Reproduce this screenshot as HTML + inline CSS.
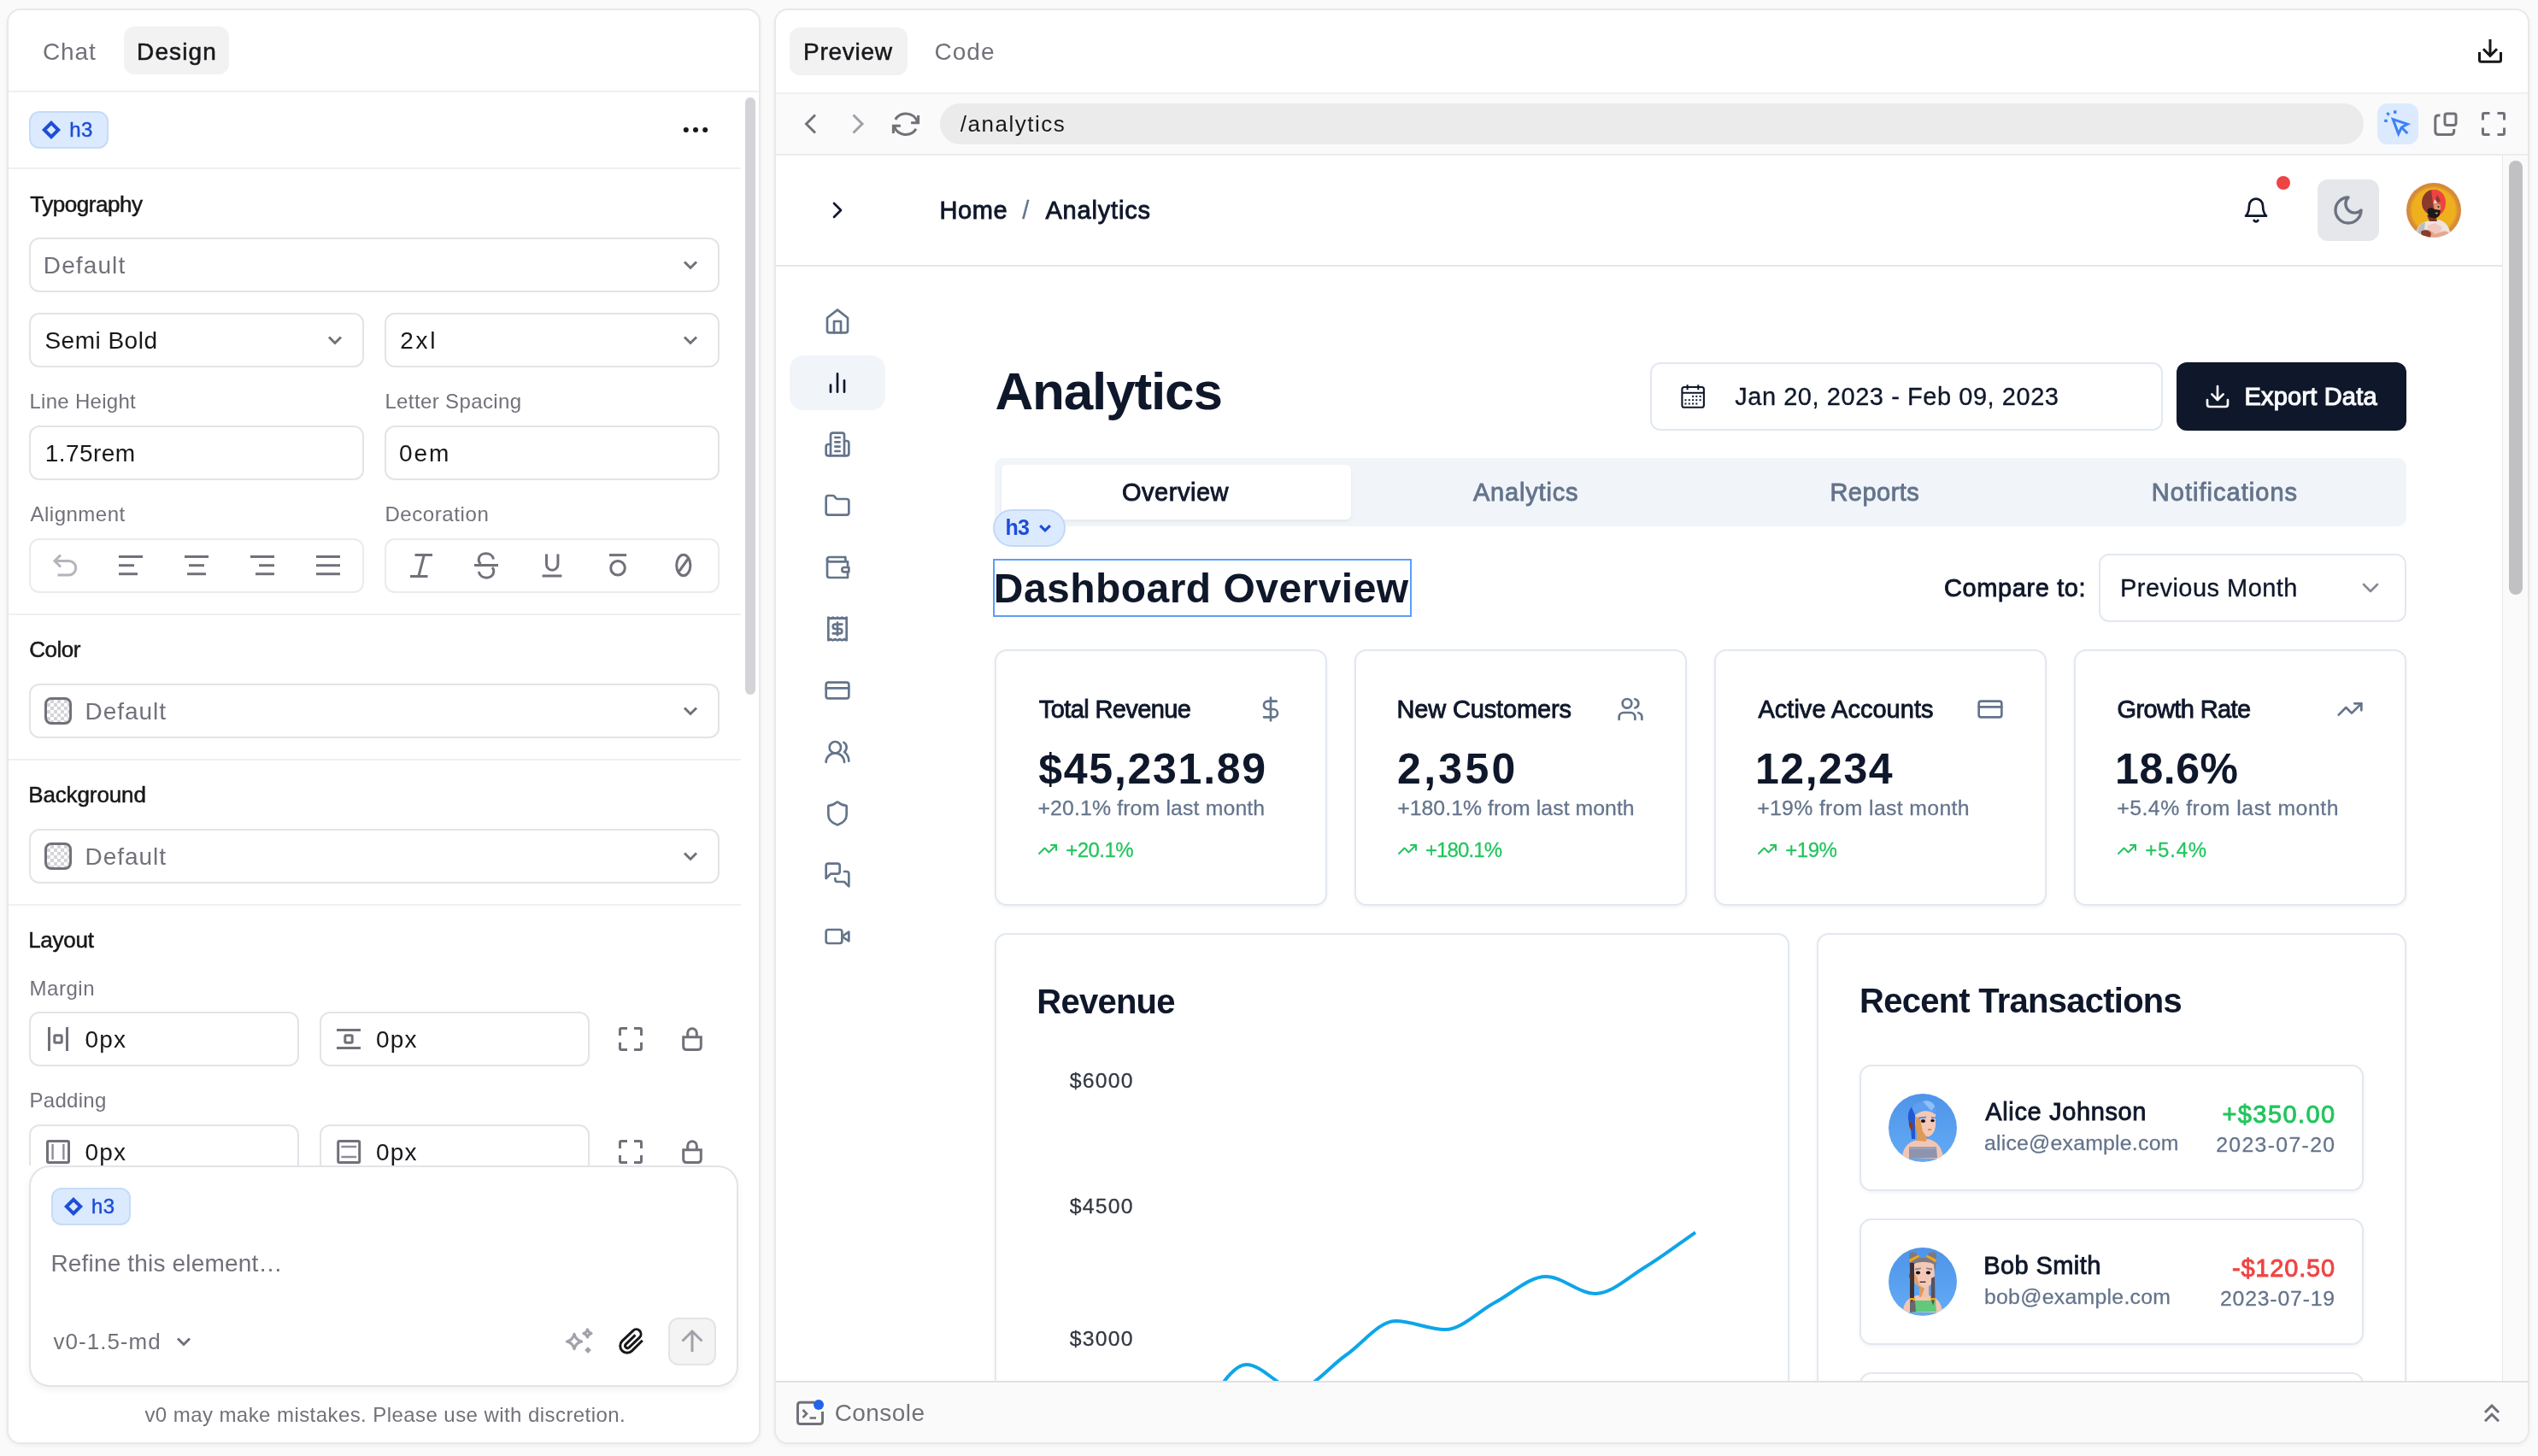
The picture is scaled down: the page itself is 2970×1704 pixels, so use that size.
<!DOCTYPE html>
<html><head><meta charset="utf-8"><title>v0 design mode</title>
<style>
html,body{margin:0;padding:0;}
body{width:2970px;height:1704px;background:#fafafa;position:relative;overflow:hidden;font-family:"Liberation Sans", sans-serif;}
div{position:absolute;box-sizing:border-box;}
.t{position:absolute;white-space:pre;line-height:1;font-family:"Liberation Sans", sans-serif;}
.i{position:absolute;overflow:visible;}
#root{left:0;top:0;width:2970px;height:1704px;will-change:transform;}
#clip{left:908px;top:182px;width:2050px;height:1434px;overflow:hidden;}
#clipin{left:-908px;top:-182px;width:2970px;height:1704px;}
</style></head><body><div id="root">
<div style="left:8px;top:10px;width:882px;height:1680px;background:#fff;border:2px solid #e8e8e8;border-radius:16px;box-shadow:0 2px 5px rgba(0,0,0,.05);"></div><div style="left:145px;top:31px;width:123px;height:56px;background:#f2f2f3;border-radius:12px;"></div><div style="left:10px;top:106px;width:878px;height:2px;background:#f0f0f0;"></div><div style="left:34px;top:130px;width:93px;height:44px;background:#dbeafe;border:2px solid #c6dbf8;border-radius:12px;"></div><div style="left:10px;top:196px;width:857px;height:2px;background:#f0f0f0;"></div><div style="left:872px;top:114px;width:12px;height:699px;background:#d4d4d8;border-radius:6px;"></div><div style="left:34px;top:278px;width:808px;height:64px;border:2px solid #e4e4e7;border-radius:12px;background:#fff;"></div><div style="left:34px;top:366px;width:392px;height:64px;border:2px solid #e4e4e7;border-radius:12px;background:#fff;"></div><div style="left:450px;top:366px;width:392px;height:64px;border:2px solid #e4e4e7;border-radius:12px;background:#fff;"></div><div style="left:34px;top:498px;width:392px;height:64px;border:2px solid #e4e4e7;border-radius:12px;background:#fff;"></div><div style="left:450px;top:498px;width:392px;height:64px;border:2px solid #e4e4e7;border-radius:12px;background:#fff;"></div><div style="left:34px;top:630px;width:392px;height:64px;border:2px solid #ebebed;border-radius:12px;background:#fff;"></div><div style="left:450px;top:630px;width:392px;height:64px;border:2px solid #ebebed;border-radius:12px;background:#fff;"></div><div style="left:34px;top:800px;width:808px;height:64px;border:2px solid #e4e4e7;border-radius:12px;background:#fff;"></div><div style="left:34px;top:970px;width:808px;height:64px;border:2px solid #e4e4e7;border-radius:12px;background:#fff;"></div><div style="left:34px;top:1184px;width:316px;height:64px;border:2px solid #e4e4e7;border-radius:12px;background:#fff;"></div><div style="left:374px;top:1184px;width:316px;height:64px;border:2px solid #e4e4e7;border-radius:12px;background:#fff;"></div><div style="left:34px;top:1316px;width:316px;height:64px;border:2px solid #e4e4e7;border-radius:12px;background:#fff;"></div><div style="left:374px;top:1316px;width:316px;height:64px;border:2px solid #e4e4e7;border-radius:12px;background:#fff;"></div><div style="left:10px;top:718px;width:857px;height:2px;background:#f0f0f0;"></div><div style="left:10px;top:888px;width:857px;height:2px;background:#f0f0f0;"></div><div style="left:10px;top:1058px;width:857px;height:2px;background:#f0f0f0;"></div><div style="left:52px;top:816px;width:32px;height:32px;border:3px solid #71717a;border-radius:8px;background-color:#fff;background-image:linear-gradient(45deg,#d4d4d8 25%,transparent 25%,transparent 75%,#d4d4d8 75%),linear-gradient(45deg,#d4d4d8 25%,transparent 25%,transparent 75%,#d4d4d8 75%);background-size:8px 8px;background-position:0 0,4px 4px;"></div><div style="left:52px;top:986px;width:32px;height:32px;border:3px solid #71717a;border-radius:8px;background-color:#fff;background-image:linear-gradient(45deg,#d4d4d8 25%,transparent 25%,transparent 75%,#d4d4d8 75%),linear-gradient(45deg,#d4d4d8 25%,transparent 25%,transparent 75%,#d4d4d8 75%);background-size:8px 8px;background-position:0 0,4px 4px;"></div><svg class="i" style="left:0;top:0;" width="2970" height="1704" viewBox="0 0 2970 1704" fill="none"><path d="M60 143.8 L68.2 152 L60 160.2 L51.8 152 Z" stroke="#1d4ed8" stroke-width="4" stroke-linejoin="miter"/><circle cx="802.8" cy="152" r="3" fill="#18181b"/><circle cx="814" cy="152" r="3" fill="#18181b"/><circle cx="825.2" cy="152" r="3" fill="#18181b"/><path d="M801.0 306.5 L808 313.5 L815.0 306.5" stroke="#71717a" stroke-width="3" stroke-linecap="butt" stroke-linejoin="miter"/><path d="M385.0 394.5 L392 401.5 L399.0 394.5" stroke="#71717a" stroke-width="3" stroke-linecap="butt" stroke-linejoin="miter"/><path d="M801.0 394.5 L808 401.5 L815.0 394.5" stroke="#71717a" stroke-width="3" stroke-linecap="butt" stroke-linejoin="miter"/><path d="M801.0 828.5 L808 835.5 L815.0 828.5" stroke="#71717a" stroke-width="3" stroke-linecap="butt" stroke-linejoin="miter"/><path d="M801.0 998.5 L808 1005.5 L815.0 998.5" stroke="#71717a" stroke-width="3" stroke-linecap="butt" stroke-linejoin="miter"/><path d="M139 651.5H167" stroke="#71717a" stroke-width="3"/><path d="M139 661.7H157" stroke="#71717a" stroke-width="3"/><path d="M139 671.7H161" stroke="#71717a" stroke-width="3"/><path d="M216 651.5H244" stroke="#71717a" stroke-width="3"/><path d="M221 661.7H239" stroke="#71717a" stroke-width="3"/><path d="M219 671.7H241" stroke="#71717a" stroke-width="3"/><path d="M293 651.5H321" stroke="#71717a" stroke-width="3"/><path d="M303 661.7H321" stroke="#71717a" stroke-width="3"/><path d="M299 671.7H321" stroke="#71717a" stroke-width="3"/><path d="M370 651.5H398" stroke="#71717a" stroke-width="3"/><path d="M370 661.7H398" stroke="#71717a" stroke-width="3"/><path d="M370 671.7H398" stroke="#71717a" stroke-width="3"/><path d="M71 649.5 L64 656.5 L71 663.5 M64.5 656.5 H80.5 A8.2 8.2 0 0 1 80.5 673 H67.5" stroke="#b4b4bb" stroke-width="3" stroke-linejoin="miter"/><path d="M485.5 649.5H506 M480 674.5H500.5 M496.3 649.5 L489.8 674.5" stroke="#71717a" stroke-width="3"/><path d="M555 661.5H583" stroke="#71717a" stroke-width="3"/><path d="M577.5 654.5 C576 645.5 561 645.5 560.2 654.5 C560 656.5 560.8 658.5 562.5 660" stroke="#71717a" stroke-width="3"/><path d="M560.3 669 C562 678.5 577 678.5 577.8 669 C578 667 577.2 665.5 576 664" stroke="#71717a" stroke-width="3"/><path d="M639.5 648.5 V660.5 A6.7 6.7 0 0 0 652.9 660.5 V648.5 M634.6 674H657.4" stroke="#71717a" stroke-width="3"/><path d="M713 649.6H733" stroke="#71717a" stroke-width="3"/><circle cx="723" cy="664.8" r="8.3" stroke="#71717a" stroke-width="3"/><ellipse cx="799.8" cy="661.5" rx="8.1" ry="12.3" stroke="#71717a" stroke-width="3"/><path d="M806.3 652.5 L793.3 670.5" stroke="#71717a" stroke-width="3"/><path d="M57.5 1202V1230 M78.5 1202V1230" stroke="#71717a" stroke-width="3"/><rect x="63.8" y="1211.8" width="8.4" height="8.4" rx="1.2" stroke="#71717a" stroke-width="3"/><path d="M394 1205.5H422 M394 1226.5H422" stroke="#71717a" stroke-width="3"/><rect x="403.8" y="1211.8" width="8.4" height="8.4" rx="1.2" stroke="#71717a" stroke-width="3"/><rect x="55.5" y="1335.5" width="25" height="25" rx="1.5" stroke="#71717a" stroke-width="3"/><path d="M61.6 1339V1357 M74.4 1339V1357" stroke="#8e8e96" stroke-width="2.4"/><rect x="395.7" y="1335.5" width="25" height="25" rx="1.5" stroke="#71717a" stroke-width="3"/><path d="M399.3 1342H417.1 M399.3 1354H417.1" stroke="#8e8e96" stroke-width="2.4"/><path d="M734.0 1203.5 H727.0 Q725.5 1203.5 725.5 1205.0 V1212.0 M742.0 1203.5 H749.0 Q750.5 1203.5 750.5 1205.0 V1212.0 M742.0 1228.5 H749.0 Q750.5 1228.5 750.5 1227.0 V1220.0 M734.0 1228.5 H727.0 Q725.5 1228.5 725.5 1227.0 V1220.0 " stroke="#71717a" stroke-width="3"/><path d="M799.7 1213.8 H820.3 V1224.5 Q820.3 1228.5 816.3 1228.5 H803.7 Q799.7 1228.5 799.7 1224.5 Z" stroke="#71717a" stroke-width="3"/><path d="M804.7 1213.8 V1209 A5.3 5.3 0 0 1 815.3 1209 V1213.8" stroke="#71717a" stroke-width="3"/><path d="M734.0 1335.5 H727.0 Q725.5 1335.5 725.5 1337.0 V1344.0 M742.0 1335.5 H749.0 Q750.5 1335.5 750.5 1337.0 V1344.0 M742.0 1360.5 H749.0 Q750.5 1360.5 750.5 1359.0 V1352.0 M734.0 1360.5 H727.0 Q725.5 1360.5 725.5 1359.0 V1352.0 " stroke="#71717a" stroke-width="3"/><path d="M799.7 1345.8 H820.3 V1356.5 Q820.3 1360.5 816.3 1360.5 H803.7 Q799.7 1360.5 799.7 1356.5 Z" stroke="#71717a" stroke-width="3"/><path d="M804.7 1345.8 V1341 A5.3 5.3 0 0 1 815.3 1341 V1345.8" stroke="#71717a" stroke-width="3"/></svg><span class="t" style="left:50.00px;top:46.90px;font-size:28px;color:#71717a;letter-spacing:0.878px;">Chat</span><span class="t" style="left:160.08px;top:46.90px;font-size:28px;color:#18181b;letter-spacing:1.093px;-webkit-text-stroke:0.55px #18181b;">Design</span><span class="t" style="left:81.14px;top:140.08px;font-size:24px;color:#1d4ed8;letter-spacing:0.481px;-webkit-text-stroke:0.47px #1d4ed8;">h3</span><span class="t" style="left:35.16px;top:225.59px;font-size:26px;color:#18181b;letter-spacing:-0.442px;-webkit-text-stroke:0.51px #18181b;">Typography</span><span class="t" style="left:50.80px;top:296.90px;font-size:28px;color:#71717a;letter-spacing:1.110px;">Default</span><span class="t" style="left:52.40px;top:385.30px;font-size:28px;color:#18181b;letter-spacing:0.495px;">Semi Bold</span><span class="t" style="left:468.30px;top:385.30px;font-size:28px;color:#18181b;letter-spacing:2.714px;">2xl</span><span class="t" style="left:34.50px;top:458.28px;font-size:24px;color:#71717a;letter-spacing:0.275px;">Line Height</span><span class="t" style="left:450.40px;top:458.28px;font-size:24px;color:#71717a;letter-spacing:0.383px;">Letter Spacing</span><span class="t" style="left:52.80px;top:516.90px;font-size:28px;color:#18181b;letter-spacing:0.435px;">1.75rem</span><span class="t" style="left:467.00px;top:516.90px;font-size:28px;color:#18181b;letter-spacing:1.928px;">0em</span><span class="t" style="left:35.50px;top:590.28px;font-size:24px;color:#71717a;letter-spacing:0.493px;">Alignment</span><span class="t" style="left:450.40px;top:590.28px;font-size:24px;color:#71717a;letter-spacing:0.587px;">Decoration</span><span class="t" style="left:34.16px;top:746.59px;font-size:26px;color:#18181b;letter-spacing:-0.496px;-webkit-text-stroke:0.51px #18181b;">Color</span><span class="t" style="left:99.60px;top:818.70px;font-size:28px;color:#71717a;letter-spacing:0.944px;">Default</span><span class="t" style="left:33.16px;top:916.59px;font-size:26px;color:#18181b;letter-spacing:-0.112px;-webkit-text-stroke:0.51px #18181b;">Background</span><span class="t" style="left:99.60px;top:988.60px;font-size:28px;color:#71717a;letter-spacing:0.944px;">Default</span><span class="t" style="left:33.16px;top:1086.59px;font-size:26px;color:#18181b;letter-spacing:-0.270px;-webkit-text-stroke:0.51px #18181b;">Layout</span><span class="t" style="left:34.50px;top:1144.78px;font-size:24px;color:#71717a;letter-spacing:0.538px;">Margin</span><span class="t" style="left:99.40px;top:1202.90px;font-size:28px;color:#18181b;letter-spacing:1.228px;">0px</span><span class="t" style="left:440.00px;top:1202.90px;font-size:28px;color:#18181b;letter-spacing:1.228px;">0px</span><span class="t" style="left:34.50px;top:1276.28px;font-size:24px;color:#71717a;letter-spacing:0.295px;">Padding</span><span class="t" style="left:99.40px;top:1334.90px;font-size:28px;color:#18181b;letter-spacing:1.228px;">0px</span><span class="t" style="left:440.00px;top:1334.90px;font-size:28px;color:#18181b;letter-spacing:1.228px;">0px</span>
<div style="left:10px;top:1364px;width:878px;height:324px;background:#fff;border-radius:0 0 14px 14px;"></div><div style="left:34px;top:1364px;width:830px;height:259px;background:#fff;border:2px solid #e4e4e7;border-radius:24px;box-shadow:0 4px 8px rgba(0,0,0,.05);"></div><div style="left:60px;top:1390px;width:93px;height:44px;background:#dbeafe;border:2px solid #c6dbf8;border-radius:12px;"></div><div style="left:782px;top:1542px;width:56px;height:56px;background:#f4f4f5;border:2px solid #e4e4e7;border-radius:12px;"></div><div style="left:906px;top:10px;width:2054px;height:1680px;background:#fff;border:2px solid #e8e8e8;border-radius:16px;box-shadow:0 2px 5px rgba(0,0,0,.05);overflow:hidden;"><div style="left:0px;top:96px;width:2050px;height:2px;background:#f0f0f0;"></div><div style="left:0px;top:98px;width:2050px;height:70px;background:#fafafa;"></div><div style="left:0px;top:168px;width:2050px;height:2px;background:#ececee;"></div></div><div style="left:924px;top:32px;width:138px;height:56px;background:#f2f2f3;border-radius:12px;"></div><div style="left:1100px;top:121px;width:1666px;height:48px;background:#ebebec;border-radius:24px;"></div><div style="left:2782px;top:121px;width:48px;height:48px;background:#dbeafe;border-radius:12px;"></div><svg class="i" style="left:0;top:0;" width="2970" height="1704" viewBox="0 0 2970 1704" fill="none"><path d="M86 1403.8 L94.2 1412 L86 1420.2 L77.8 1412 Z" stroke="#1d4ed8" stroke-width="4" stroke-linejoin="miter"/><path d="M208.0 1566.5 L215 1573.5 L222.0 1566.5" stroke="#71717a" stroke-width="3" stroke-linecap="butt" stroke-linejoin="miter"/><path d="M672 1561.4 Q673.72 1568.28 680.6 1570 Q673.72 1571.72 672 1578.6 Q670.28 1571.72 663.4 1570 Q670.28 1568.28 672 1561.4 Z" stroke="#a1a1aa" stroke-width="3.2" stroke-linejoin="round"/><path d="M687.5 1555.9 Q688.42 1559.58 692.1 1560.5 Q688.42 1561.42 687.5 1565.1 Q686.58 1561.42 682.9 1560.5 Q686.58 1559.58 687.5 1555.9 Z" stroke="#a1a1aa" stroke-width="3.0" stroke-linejoin="round"/><path d="M688 1576.3 L691.8 1580.1 L688 1583.900 L684.2 1580.1 Z" fill="#a1a1aa"/><path d="M751.8 1568.7 L739.6 1580.9 A8.1 8.1 0 0 1 728.1 1569.4 L740.8 1557.4 A5.4 5.4 0 0 1 748.5 1565.1 L736.0 1577.1 A2.7 2.7 0 0 1 732.2 1573.3 L743.5 1562.4" stroke="#18181b" stroke-width="3" stroke-linecap="butt"/><path d="M810 1582 V1559 M798.5 1569.5 L810 1558 L821.5 1569.5" stroke="#a1a1aa" stroke-width="3"/><path d="M954 134.5 L943.5 145 L954 155.5" stroke="#71717a" stroke-width="3"/><path d="M998.5 134.5 L1009 145 L998.5 155.5" stroke="#a1a1aa" stroke-width="3"/><path d="M1047.7 139.9 A14.4 14.4 0 0 1 1073.6 142.8 M1072.0 150.9 A14.4 14.4 0 0 1 1046.4 148.1" stroke="#71717a" stroke-width="3"/><path d="M1074.6 134.900 V143.700 H1066.1" stroke="#71717a" stroke-width="3" stroke-linejoin="miter"/><path d="M1045.4 156 V147.2 H1053.900" stroke="#71717a" stroke-width="3" stroke-linejoin="miter"/><path d="M1074 143 L1074 139.500 L1070.5 143 Z M1046 148 L1046 151.500 L1049.5 148 Z" fill="#71717a"/><path d="M2914 46 V64 M2906 57.3 L2914 65.3 L2922 57.3 M2901.5 61 V70.3 Q2901.5 72.3 2903.5 72.3 H2924.5 Q2926.5 72.3 2926.5 70.3 V61" stroke="#18181b" stroke-width="3"/><path d="M2800.3 139.6 L2817.3 145.4 L2810.3 149.0 L2806.7 156.6 Z" stroke="#3b82f6" stroke-width="3" stroke-linejoin="miter"/><path d="M2810.5 149.3 L2817.3 156.1" stroke="#3b82f6" stroke-width="3"/><rect x="2801" y="129.3" width="3.4" height="3.6" fill="#3b82f6"/><rect x="2790.2" y="139.8" width="3.6" height="3.2" fill="#3b82f6"/><path d="M2793.3 132 L2795.8 134.6" stroke="#3b82f6" stroke-width="3"/><rect x="2861" y="133" width="13" height="13.5" rx="2.5" stroke="#71717a" stroke-width="3"/><path d="M2855.5 135 H2853.5 Q2849.8 135 2849.8 138.7 V153.8 Q2849.8 157.5 2853.5 157.5 H2868 Q2871.7 157.5 2871.7 153.8 V151" stroke="#71717a" stroke-width="3"/><path d="M2913.5 132.5 H2907.0 Q2905.5 132.5 2905.5 134.0 V140.5 M2922.5 132.5 H2929.0 Q2930.5 132.5 2930.5 134.0 V140.5 M2922.5 157.5 H2929.0 Q2930.5 157.5 2930.5 156.0 V149.5 M2913.5 157.5 H2907.0 Q2905.5 157.5 2905.5 156.0 V149.5 " stroke="#71717a" stroke-width="3"/></svg><span class="t" style="left:106.94px;top:1400.08px;font-size:24px;color:#1d4ed8;letter-spacing:0.481px;-webkit-text-stroke:0.47px #1d4ed8;">h3</span><span class="t" style="left:59.40px;top:1464.90px;font-size:28px;color:#71717a;letter-spacing:0.175px;">Refine this element…</span><span class="t" style="left:62.60px;top:1557.39px;font-size:26px;color:#71717a;letter-spacing:1.003px;">v0-1.5-md</span><span class="t" style="left:169.40px;top:1643.78px;font-size:24px;color:#71717a;letter-spacing:0.432px;">v0 may make mistakes. Please use with discretion.</span><span class="t" style="left:939.98px;top:46.90px;font-size:28px;color:#18181b;letter-spacing:0.731px;-webkit-text-stroke:0.55px #18181b;">Preview</span><span class="t" style="left:1093.40px;top:46.90px;font-size:28px;color:#71717a;letter-spacing:1.078px;">Code</span><span class="t" style="left:1123.80px;top:132.19px;font-size:26px;color:#18181b;letter-spacing:1.513px;">/analytics</span><span class="t" style="left:976.70px;top:1640.30px;font-size:28px;color:#71717a;letter-spacing:0.440px;">Console</span>
<div id="clip"><div id="clipin">
<div style="left:908px;top:182px;width:2050px;height:1434px;background:#fff;"></div><div style="left:2928px;top:182px;width:30px;height:1434px;background:#fafafa;border-left:1px solid #e8e8e8;"></div><div style="left:2936px;top:188px;width:16px;height:508px;background:#c1c1c4;border-radius:8px;"></div><div style="left:908px;top:310px;width:2020px;height:2px;background:#e2e8f0;"></div><div style="left:2712px;top:210px;width:72px;height:72px;background:#e5e7eb;border-radius:12px;"></div><div style="left:2664px;top:206px;width:16px;height:16px;background:#ef4444;border-radius:8px;"></div><div style="left:924px;top:416px;width:112px;height:64px;background:#f1f5f9;border-radius:16px;"></div><div style="left:1931px;top:424px;width:600px;height:80px;background:#fff;border:2px solid #e2e8f0;border-radius:12px;"></div><div style="left:2547px;top:424px;width:269px;height:80px;background:#0f172a;border-radius:12px;"></div><div style="left:1164px;top:536px;width:1652px;height:80px;background:#f1f5f9;border-radius:10px;"></div><div style="left:1172px;top:544px;width:409px;height:64px;background:#fff;border-radius:6px;box-shadow:0 2px 4px rgba(0,0,0,.06);"></div><div style="left:2456px;top:648px;width:360px;height:80px;background:#fff;border:2px solid #e2e8f0;border-radius:12px;"></div><div style="left:1164px;top:760px;width:389px;height:300px;background:#fff;border:2px solid #e2e8f0;border-radius:14px;box-shadow:0 2px 4px rgba(0,0,0,.05);"></div><div style="left:1585px;top:760px;width:389px;height:300px;background:#fff;border:2px solid #e2e8f0;border-radius:14px;box-shadow:0 2px 4px rgba(0,0,0,.05);"></div><div style="left:2006px;top:760px;width:389px;height:300px;background:#fff;border:2px solid #e2e8f0;border-radius:14px;box-shadow:0 2px 4px rgba(0,0,0,.05);"></div><div style="left:2427px;top:760px;width:389px;height:300px;background:#fff;border:2px solid #e2e8f0;border-radius:14px;box-shadow:0 2px 4px rgba(0,0,0,.05);"></div><div style="left:1164px;top:1092px;width:930px;height:700px;background:#fff;border:2px solid #e2e8f0;border-radius:14px;box-shadow:0 2px 4px rgba(0,0,0,.05);"></div><div style="left:2126px;top:1092px;width:690px;height:700px;background:#fff;border:2px solid #e2e8f0;border-radius:14px;box-shadow:0 2px 4px rgba(0,0,0,.05);"></div><div style="left:2176px;top:1246px;width:590px;height:148px;background:#fff;border:2px solid #e2e8f0;border-radius:14px;box-shadow:0 2px 4px rgba(0,0,0,.05);"></div><div style="left:2176px;top:1426px;width:590px;height:148px;background:#fff;border:2px solid #e2e8f0;border-radius:14px;box-shadow:0 2px 4px rgba(0,0,0,.05);"></div><div style="left:2176px;top:1606px;width:590px;height:148px;background:#fff;border:2px solid #e2e8f0;border-radius:14px;box-shadow:0 2px 4px rgba(0,0,0,.05);"></div><svg class="i" style="left:0;top:0;" width="2970" height="1704" viewBox="0 0 2970 1704" fill="none"><path d="M1400.5 1660.0 C1419.8 1639.0 1439.2 1597.0 1458.5 1597.0 C1477.8 1597.0 1497.2 1626.0 1516.5 1626.0 C1536.0 1626.0 1555.5 1599.4 1575.0 1586.0 C1594.3 1572.7 1613.7 1546.0 1633.0 1546.0 C1652.3 1546.0 1671.7 1556.0 1691.0 1556.0 C1710.7 1556.0 1730.3 1534.3 1750.0 1524.0 C1769.7 1513.7 1789.3 1494.0 1809.0 1494.0 C1828.3 1494.0 1847.7 1514.0 1867.0 1514.0 C1886.3 1514.0 1905.7 1494.6 1925.0 1483.0 C1944.7 1471.2 1964.3 1455.9 1984.0 1442.3" stroke="#0ea5e9" stroke-width="4" fill="none"/><rect x="1968.4" y="453" width="25.5" height="23.8" rx="2.6" stroke="#0f172a" stroke-width="2.1"/><path d="M1968.4 459.8 H1993.900 M1974.6 450.3 V456.3 M1987.3 450.3 V456.3" stroke="#0f172a" stroke-width="2.1"/><rect x="1980.1" y="462.9" width="2" height="2" fill="#0f172a"/><rect x="1984.3" y="462.9" width="2" height="2" fill="#0f172a"/><rect x="1988.6" y="462.9" width="2" height="2" fill="#0f172a"/><rect x="1971.5" y="467.2" width="2" height="2" fill="#0f172a"/><rect x="1975.8" y="467.2" width="2" height="2" fill="#0f172a"/><rect x="1980.1" y="467.2" width="2" height="2" fill="#0f172a"/><rect x="1984.3" y="467.2" width="2" height="2" fill="#0f172a"/><rect x="1988.6" y="467.2" width="2" height="2" fill="#0f172a"/><rect x="1971.5" y="471.5" width="2" height="2" fill="#0f172a"/><rect x="1975.8" y="471.5" width="2" height="2" fill="#0f172a"/><rect x="1980.1" y="471.5" width="2" height="2" fill="#0f172a"/><rect x="1984.3" y="471.5" width="2" height="2" fill="#0f172a"/></svg><svg class="i" style="left:964.00px;top:360.00px;" width="32" height="32" viewBox="0 0 24 24" fill="none" stroke="#64748b" stroke-width="2" stroke-linecap="round" stroke-linejoin="round"><path d="m3 9 9-7 9 7v11a2 2 0 0 1-2 2H5a2 2 0 0 1-2-2z"/><path d="M9 22V12h6v10"/></svg><svg class="i" style="left:964.00px;top:432.00px;" width="32" height="32" viewBox="0 0 24 24" fill="none" stroke="#0f172a" stroke-width="2" stroke-linecap="round" stroke-linejoin="round"><path d="M18 20V10M12 20V4M6 20v-6"/></svg><svg class="i" style="left:964.00px;top:504.00px;" width="32" height="32" viewBox="0 0 24 24" fill="none" stroke="#64748b" stroke-width="2" stroke-linecap="round" stroke-linejoin="round"><path d="M6 22V4a2 2 0 0 1 2-2h8a2 2 0 0 1 2 2v18Z"/><path d="M6 12H4a2 2 0 0 0-2 2v6a2 2 0 0 0 2 2h2"/><path d="M18 9h2a2 2 0 0 1 2 2v9a2 2 0 0 1-2 2h-2"/><path d="M10 6h4M10 10h4M10 14h4M10 18h4"/></svg><svg class="i" style="left:964.00px;top:576.00px;" width="32" height="32" viewBox="0 0 24 24" fill="none" stroke="#64748b" stroke-width="2" stroke-linecap="round" stroke-linejoin="round"><path d="M20 20a2 2 0 0 0 2-2V8a2 2 0 0 0-2-2h-7.9a2 2 0 0 1-1.69-.9L9.6 3.9A2 2 0 0 0 7.93 3H4a2 2 0 0 0-2 2v13a2 2 0 0 0 2 2Z"/></svg><svg class="i" style="left:964.00px;top:648.00px;" width="32" height="32" viewBox="0 0 24 24" fill="none" stroke="#64748b" stroke-width="2" stroke-linecap="round" stroke-linejoin="round"><path d="M21 12V7H5a2 2 0 0 1 0-4h14v4"/><path d="M3 5v14a2 2 0 0 0 2 2h16v-5"/><path d="M18 12a2 2 0 0 0 0 4h4v-4Z"/></svg><svg class="i" style="left:964.00px;top:720.00px;" width="32" height="32" viewBox="0 0 24 24" fill="none" stroke="#64748b" stroke-width="2" stroke-linecap="round" stroke-linejoin="round"><path d="M4 2v20l2-1 2 1 2-1 2 1 2-1 2 1 2-1 2 1V2l-2 1-2-1-2 1-2-1-2 1-2-1-2 1Z"/><path d="M16 8h-6a2 2 0 1 0 0 4h4a2 2 0 1 1 0 4H8"/><path d="M12 17.5v-11"/></svg><svg class="i" style="left:964.00px;top:792.00px;" width="32" height="32" viewBox="0 0 24 24" fill="none" stroke="#64748b" stroke-width="2" stroke-linecap="round" stroke-linejoin="round"><rect width="20" height="14" x="2" y="5" rx="2"/><path d="M2 10h20"/></svg><svg class="i" style="left:964.00px;top:864.00px;" width="32" height="32" viewBox="0 0 24 24" fill="none" stroke="#64748b" stroke-width="2" stroke-linecap="round" stroke-linejoin="round"><path d="M18 21a8 8 0 0 0-16 0"/><circle cx="10" cy="8" r="5"/><path d="M22 20c0-3.37-2-6.5-4-8a5 5 0 0 0-.45-8.3"/></svg><svg class="i" style="left:964.00px;top:936.00px;" width="32" height="32" viewBox="0 0 24 24" fill="none" stroke="#64748b" stroke-width="2" stroke-linecap="round" stroke-linejoin="round"><path d="M20 13c0 5-3.5 7.5-7.66 8.95a1 1 0 0 1-.67-.01C7.5 20.5 4 18 4 13V6a1 1 0 0 1 1-1c2 0 4.5-1.2 6.24-2.72a1.17 1.17 0 0 1 1.52 0C14.51 3.81 17 5 19 5a1 1 0 0 1 1 1z"/></svg><svg class="i" style="left:964.00px;top:1008.00px;" width="32" height="32" viewBox="0 0 24 24" fill="none" stroke="#64748b" stroke-width="2" stroke-linecap="round" stroke-linejoin="round"><path d="M14 9a2 2 0 0 1-2 2H6l-4 4V4c0-1.1.9-2 2-2h8a2 2 0 0 1 2 2z"/><path d="M18 9h2a2 2 0 0 1 2 2v11l-4-4h-6a2 2 0 0 1-2-2v-1"/></svg><svg class="i" style="left:964.00px;top:1080.00px;" width="32" height="32" viewBox="0 0 24 24" fill="none" stroke="#64748b" stroke-width="2" stroke-linecap="round" stroke-linejoin="round"><path d="m22 8-6 4 6 4V8Z"/><rect width="14" height="12" x="2" y="6" rx="2"/></svg><svg class="i" style="left:963.50px;top:230.00px;" width="32" height="32" viewBox="0 0 24 24" fill="none" stroke="#0f172a" stroke-width="2" stroke-linecap="round" stroke-linejoin="round"><path d="m9 18 6-6-6-6"/></svg><svg class="i" style="left:2624.00px;top:230.00px;" width="32" height="32" viewBox="0 0 24 24" fill="none" stroke="#0f172a" stroke-width="2" stroke-linecap="round" stroke-linejoin="round"><path d="M6 8a6 6 0 0 1 12 0c0 7 3 9 3 9H3s3-2 3-9"/><path d="M10.3 21a1.94 1.94 0 0 0 3.4 0"/></svg><svg class="i" style="left:2728.00px;top:226.00px;" width="40" height="40" viewBox="0 0 24 24" fill="none" stroke="#6b7280" stroke-width="2" stroke-linecap="round" stroke-linejoin="round"><path d="M12 3a6 6 0 0 0 9 9 9 9 0 1 1-9-9Z"/></svg><svg class="i" style="left:2579.00px;top:448.00px;" width="32" height="32" viewBox="0 0 24 24" fill="none" stroke="#f8fafc" stroke-width="2" stroke-linecap="round" stroke-linejoin="round"><path d="M21 15v4a2 2 0 0 1-2 2H5a2 2 0 0 1-2-2v-4"/><path d="M7 10l5 5 5-5"/><path d="M12 15V3"/></svg><svg class="i" style="left:2758.00px;top:672.00px;" width="32" height="32" viewBox="0 0 24 24" fill="none" stroke="#878b95" stroke-width="2" stroke-linecap="round" stroke-linejoin="round"><path d="m6 9 6 6 6-6"/></svg><svg class="i" style="left:1471.00px;top:814.00px;" width="32" height="32" viewBox="0 0 24 24" fill="none" stroke="#64748b" stroke-width="2" stroke-linecap="round" stroke-linejoin="round"><path d="M12 2v20"/><path d="M17 5H9.5a3.5 3.5 0 0 0 0 7h5a3.5 3.5 0 0 1 0 7H6"/></svg><svg class="i" style="left:1892.00px;top:814.00px;" width="32" height="32" viewBox="0 0 24 24" fill="none" stroke="#64748b" stroke-width="2" stroke-linecap="round" stroke-linejoin="round"><path d="M16 21v-2a4 4 0 0 0-4-4H6a4 4 0 0 0-4 4v2"/><circle cx="9" cy="7" r="4"/><path d="M22 21v-2a4 4 0 0 0-3-3.87"/><path d="M16 3.13a4 4 0 0 1 0 7.75"/></svg><svg class="i" style="left:2313.00px;top:814.00px;" width="32" height="32" viewBox="0 0 24 24" fill="none" stroke="#64748b" stroke-width="2" stroke-linecap="round" stroke-linejoin="round"><rect width="20" height="14" x="2" y="5" rx="2"/><path d="M2 10h20"/></svg><svg class="i" style="left:2734.00px;top:814.00px;" width="32" height="32" viewBox="0 0 24 24" fill="none" stroke="#64748b" stroke-width="2" stroke-linecap="round" stroke-linejoin="round"><path d="M22 7 13.5 15.5 8.5 10.5 2 17"/><path d="M16 7h6v6"/></svg><svg class="i" style="left:1214.30px;top:982.00px;" width="24" height="24" viewBox="0 0 24 24" fill="none" stroke="#22c55e" stroke-width="2" stroke-linecap="round" stroke-linejoin="round"><path d="M22 7 13.5 15.5 8.5 10.5 2 17"/><path d="M16 7h6v6"/></svg><svg class="i" style="left:1635.00px;top:982.00px;" width="24" height="24" viewBox="0 0 24 24" fill="none" stroke="#22c55e" stroke-width="2" stroke-linecap="round" stroke-linejoin="round"><path d="M22 7 13.5 15.5 8.5 10.5 2 17"/><path d="M16 7h6v6"/></svg><svg class="i" style="left:2056.00px;top:982.00px;" width="24" height="24" viewBox="0 0 24 24" fill="none" stroke="#22c55e" stroke-width="2" stroke-linecap="round" stroke-linejoin="round"><path d="M22 7 13.5 15.5 8.5 10.5 2 17"/><path d="M16 7h6v6"/></svg><svg class="i" style="left:2477.00px;top:982.00px;" width="24" height="24" viewBox="0 0 24 24" fill="none" stroke="#22c55e" stroke-width="2" stroke-linecap="round" stroke-linejoin="round"><path d="M22 7 13.5 15.5 8.5 10.5 2 17"/><path d="M16 7h6v6"/></svg><svg class="i" style="left:2816px;top:214px" width="64" height="64" viewBox="0 0 64 64"><defs><clipPath id="cu"><circle cx="32" cy="32" r="32"/></clipPath><radialGradient id="gu" cx="50%" cy="50%" r="50%"><stop offset="0.78" stop-color="#efb01d"/><stop offset="0.9" stop-color="#d68a38"/></radialGradient></defs><g clip-path="url(#cu)"><rect width="64" height="64" fill="url(#gu)"/><path d="M11 64 C11 50 18 45 30 44 L36 43 C45 44 51 50 52 64 Z" fill="#ece4e2"/><path d="M12 64 C12 54 15 48 22 46 L20 64 Z" fill="#b9bcc6"/><path d="M24 50 L34 47 L42 52 L38 64 L28 64 Z" fill="#f2cabd"/><path d="M17 57 C22 53 30 55 33 60 L40 58 C45 55 50 57 51 62 L50 64 L18 64 Z" fill="#e3a98f"/><path d="M17 57 C21 54 27 55 29 59 L28 64 L18 64 Z" fill="#8c3b2b"/><path d="M24 38 L34 38 L36 45 L27 45 Z" fill="#7f3428"/><ellipse cx="31.5" cy="23" rx="13.5" ry="15" fill="#8b382e"/><path d="M29 8.2 C39 6.5 46 13 46 23 C46 31 42 36 38 38 L33 38 L31 24 Z" fill="#ee4340"/><path d="M33 19 L36.5 24 L31.5 24 Z" fill="#f3cfc4"/><path d="M36 14 L40 21 L37 23 L34 19 Z" fill="#8b382e"/><path d="M32 24 L40 25 L40 33 L33 34 Z" fill="#d99a6c"/><path d="M24.5 32 C26 28 31 29 33 31 L40 32 L39 37 C38 42 28 43 25.5 38 Z" fill="#1d191b"/><path d="M33 35 L37 34.5 L36 37 Z" fill="#d9956a"/><circle cx="37.5" cy="28" r="1" fill="#2a1a18"/></g></svg><svg class="i" style="left:2210px;top:1280px" width="80" height="80" viewBox="0 0 80 80"><defs><clipPath id="ca"><circle cx="40" cy="40" r="40"/></clipPath><linearGradient id="ga" x1="0" y1="0" x2="0" y2="1"><stop offset="0" stop-color="#4f94e8"/><stop offset="1" stop-color="#63abf6"/></linearGradient></defs><g clip-path="url(#ca)"><rect width="80" height="80" fill="url(#ga)"/><path d="M16 74 C17 62 24 56 34 54 L46 53 C56 55 62 62 64 74 L60 76 L18 76 Z" fill="#f3c6b4"/><path d="M24 62 L56 62 L57 75 L24 76 Z" fill="#8d94ae"/><path d="M24 62 L56 62 L56 65 L24 65 Z" fill="#9ba1b8"/><path d="M33 44 L45 48 L44 56 L33 55 Z" fill="#dc9a5e"/><path d="M31 22 C34 17 50 17 55 24 L55 38 C54 46 49 51 45 50 C38 49 32 42 31 34 Z" fill="#f4c8b6"/><path d="M31 26 L37 30 L40 44 L44 50 L36 54 L32 42 Z" fill="#dd9a55"/><path d="M23 30 C22 18 28 12 36 12 L34 20 L31 24 L31 53 L27 53 L26 40 Z" fill="#1f57d6"/><path d="M24 32 C23 36 25 42 28 44 L28 34 Z" fill="#8a3b22"/><path d="M27 16 C32 8 50 6 54 14 C56 18 55 22 54 24 C50 20 42 19 36 22 L31 25 Z" fill="#5e9ff0"/><path d="M40 9 C46 7 52 9 54 15 L50 20 Z" fill="#8fc0f8"/><path d="M35 27.5 L44 26.5 L44 28.5 L35 29.5 Z M50 27 L55 27.5 L55 29 L50 29 Z" fill="#4c90ea"/><ellipse cx="40.5" cy="32" rx="2.6" ry="2" fill="#15151d"/><ellipse cx="51.5" cy="31.5" rx="2.2" ry="1.8" fill="#15151d"/><path d="M46 42 L50 42" stroke="#d9705e" stroke-width="1.4"/></g></svg><svg class="i" style="left:2210px;top:1460px" width="80" height="80" viewBox="0 0 80 80"><defs><clipPath id="cb"><circle cx="40" cy="40" r="40"/></clipPath><linearGradient id="gb" x1="0" y1="0" x2="0" y2="1"><stop offset="0" stop-color="#4f94e8"/><stop offset="1" stop-color="#63abf6"/></linearGradient></defs><g clip-path="url(#cb)"><rect width="80" height="80" fill="url(#gb)"/><path d="M24 16 L24 7 C27 4 32 5 34 8 L36 12 L44 12 L46 8 C48 5 53 4 56 7 L56 16 L55 26 L25 26 Z" fill="#7b7a83"/><path d="M24 14 L35 8.5 L36 11 L25 17.5 Z M56 14 L45 8.5 L44 11 L55 17.5 Z" fill="#eea51f"/><path d="M17 74 C18 63 24 58 34 56 L46 56 C56 58 61 63 63 74 L60 76 L19 76 Z" fill="#f3c6b4"/><path d="M25 62 L55 62 L56 75 L25 76 Z" fill="#62c97a"/><path d="M25 62 L31 62 L32 75 L25 76 Z" fill="#6a676e"/><path d="M37 44 L47 44 L47 58 L36 58 Z" fill="#f1c3b0"/><path d="M37 44 L42 48 L38 58 L36 58 Z" fill="#de9b58"/><path d="M29 20 C32 16 50 16 53 20 L54 34 C53 42 47 47 41 47 C35 47 29 42 28.500 34 Z" fill="#f4c8b6"/><path d="M29 28 L33 34 L36 44 L41 47 C35 47 29 42 28.500 34 Z" fill="#e0a068"/><path d="M25 18 L30 18 L30 60 L27 64 L25 60 Z" fill="#3b3238"/><path d="M50 36 L54 34 L54.500 60 L52 68 L49.500 60 Z" fill="#5a5258"/><path d="M25 30 C23.500 33 24 37 26 38 Z" fill="#8a3b22"/><path d="M31 24.500 L38 23.500 L38 25 L31 26.500 Z M44 23.500 L51 24.500 L51 26.500 L44 25 Z" fill="#8a7f82"/><ellipse cx="34.5" cy="29.500" rx="2.6" ry="2" fill="#15151d"/><ellipse cx="46.500" cy="29.500" rx="2.6" ry="2" fill="#15151d"/><path d="M36.500 40.300 L43.500 40.300" stroke="#2a1a1a" stroke-width="1.3"/><path d="M24.500 59 L31 59 L31 61.500 L24.500 61.500 Z M49 59 L55.500 59 L55.500 61.500 L49 61.500 Z" fill="#eea51f"/></g></svg><span class="t" style="left:1099.44px;top:232.25px;font-size:29.0px;color:#0f172a;letter-spacing:0.630px;-webkit-text-stroke:0.88px #0f172a;">Home</span><span class="t" style="left:1196.16px;top:232.25px;font-size:29.0px;color:#64748b;-webkit-text-stroke:0.31px #64748b;">/</span><span class="t" style="left:1223.44px;top:232.25px;font-size:29.0px;color:#0f172a;letter-spacing:0.822px;-webkit-text-stroke:0.88px #0f172a;">Analytics</span><span class="t" style="left:1164.40px;top:427.02px;font-size:62px;color:#0f172a;letter-spacing:-1.149px;font-weight:700;">Analytics</span><span class="t" style="left:2030.16px;top:450.45px;font-size:29.0px;color:#0f172a;letter-spacing:0.555px;-webkit-text-stroke:0.31px #0f172a;">Jan 20, 2023 - Feb 09, 2023</span><span class="t" style="left:2626.57px;top:450.15px;font-size:29.0px;color:#f8fafc;letter-spacing:0.186px;-webkit-text-stroke:1.14px #f8fafc;">Export Data</span><span class="t" style="left:1313.04px;top:562.45px;font-size:29.0px;color:#0f172a;letter-spacing:0.515px;-webkit-text-stroke:0.88px #0f172a;">Overview</span><span class="t" style="left:1723.94px;top:562.45px;font-size:29.0px;color:#64748b;letter-spacing:0.822px;-webkit-text-stroke:0.88px #64748b;">Analytics</span><span class="t" style="left:2141.44px;top:562.45px;font-size:29.0px;color:#64748b;letter-spacing:0.480px;-webkit-text-stroke:0.88px #64748b;">Reports</span><span class="t" style="left:2517.84px;top:562.45px;font-size:29.0px;color:#64748b;letter-spacing:1.022px;-webkit-text-stroke:0.88px #64748b;">Notifications</span><span class="t" style="left:1162.80px;top:665.27px;font-size:48px;color:#0f172a;letter-spacing:0.460px;font-weight:700;">Dashboard Overview</span><span class="t" style="left:2275.04px;top:674.45px;font-size:29.0px;color:#0f172a;letter-spacing:0.601px;-webkit-text-stroke:0.88px #0f172a;">Compare to:</span><span class="t" style="left:2480.96px;top:673.85px;font-size:29.0px;color:#0f172a;letter-spacing:0.464px;-webkit-text-stroke:0.31px #0f172a;">Previous Month</span><span class="t" style="left:1215.74px;top:816.45px;font-size:29.0px;color:#0f172a;letter-spacing:-0.596px;-webkit-text-stroke:0.88px #0f172a;">Total Revenue</span><span class="t" style="left:1634.44px;top:816.45px;font-size:29.0px;color:#0f172a;letter-spacing:-0.138px;-webkit-text-stroke:0.88px #0f172a;">New Customers</span><span class="t" style="left:2057.44px;top:816.45px;font-size:29.0px;color:#0f172a;letter-spacing:0.022px;-webkit-text-stroke:0.88px #0f172a;">Active Accounts</span><span class="t" style="left:2477.44px;top:816.45px;font-size:29.0px;color:#0f172a;letter-spacing:-0.604px;-webkit-text-stroke:0.88px #0f172a;">Growth Rate</span><span class="t" style="left:1215.30px;top:875.07px;font-size:50px;color:#0f172a;letter-spacing:1.729px;font-weight:700;">$45,231.89</span><span class="t" style="left:1635.00px;top:875.07px;font-size:50px;color:#0f172a;letter-spacing:3.321px;font-weight:700;">2,350</span><span class="t" style="left:2054.00px;top:875.07px;font-size:50px;color:#0f172a;letter-spacing:1.536px;font-weight:700;">12,234</span><span class="t" style="left:2475.00px;top:875.07px;font-size:50px;color:#0f172a;letter-spacing:0.571px;font-weight:700;">18.6%</span><span class="t" style="left:1214.43px;top:934.01px;font-size:24.8px;color:#64748b;letter-spacing:0.151px;-webkit-text-stroke:0.27px #64748b;">+20.1% from last month</span><span class="t" style="left:1635.13px;top:934.01px;font-size:24.8px;color:#64748b;letter-spacing:0.053px;-webkit-text-stroke:0.27px #64748b;">+180.1% from last month</span><span class="t" style="left:2056.13px;top:934.01px;font-size:24.8px;color:#64748b;letter-spacing:0.350px;-webkit-text-stroke:0.27px #64748b;">+19% from last month</span><span class="t" style="left:2477.13px;top:934.01px;font-size:24.8px;color:#64748b;letter-spacing:0.528px;-webkit-text-stroke:0.27px #64748b;">+5.4% from last month</span><span class="t" style="left:1247.13px;top:982.98px;font-size:24px;color:#22c55e;letter-spacing:-0.497px;-webkit-text-stroke:0.26px #22c55e;">+20.1%</span><span class="t" style="left:1667.93px;top:982.98px;font-size:24px;color:#22c55e;letter-spacing:-0.855px;-webkit-text-stroke:0.26px #22c55e;">+180.1%</span><span class="t" style="left:2089.13px;top:982.98px;font-size:24px;color:#22c55e;letter-spacing:-0.423px;-webkit-text-stroke:0.26px #22c55e;">+19%</span><span class="t" style="left:2510.13px;top:982.98px;font-size:24px;color:#22c55e;letter-spacing:0.841px;-webkit-text-stroke:0.26px #22c55e;">+5.4%</span><span class="t" style="left:1213.30px;top:1151.64px;font-size:40px;color:#0f172a;letter-spacing:-0.749px;font-weight:700;">Revenue</span><span class="t" style="left:2176.00px;top:1151.14px;font-size:40px;color:#0f172a;letter-spacing:-0.750px;font-weight:700;">Recent Transactions</span><span class="t" style="left:1251.73px;top:1252.61px;font-size:24.8px;color:#333842;letter-spacing:1.243px;-webkit-text-stroke:0.27px #333842;">$6000</span><span class="t" style="left:1251.73px;top:1399.61px;font-size:24.8px;color:#333842;letter-spacing:1.243px;-webkit-text-stroke:0.27px #333842;">$4500</span><span class="t" style="left:1251.73px;top:1554.81px;font-size:24.8px;color:#333842;letter-spacing:1.243px;-webkit-text-stroke:0.27px #333842;">$3000</span><span class="t" style="left:2323.24px;top:1287.45px;font-size:29.0px;color:#0f172a;letter-spacing:0.641px;-webkit-text-stroke:0.88px #0f172a;">Alice Johnson</span><span class="t" style="left:2321.93px;top:1326.01px;font-size:24.8px;color:#64748b;letter-spacing:0.235px;-webkit-text-stroke:0.27px #64748b;">alice@example.com</span><span class="t" style="left:2600.44px;top:1290.45px;font-size:29.0px;color:#22c55e;letter-spacing:1.426px;-webkit-text-stroke:0.88px #22c55e;">+$350.00</span><span class="t" style="left:2593.13px;top:1327.71px;font-size:24.8px;color:#64748b;letter-spacing:1.354px;-webkit-text-stroke:0.27px #64748b;">2023-07-20</span><span class="t" style="left:2321.24px;top:1467.45px;font-size:29.0px;color:#0f172a;letter-spacing:0.408px;-webkit-text-stroke:0.88px #0f172a;">Bob Smith</span><span class="t" style="left:2321.93px;top:1506.01px;font-size:24.8px;color:#64748b;letter-spacing:0.292px;-webkit-text-stroke:0.27px #64748b;">bob@example.com</span><span class="t" style="left:2611.94px;top:1470.45px;font-size:29.0px;color:#ef4444;letter-spacing:0.823px;-webkit-text-stroke:0.88px #ef4444;">-$120.50</span><span class="t" style="left:2597.93px;top:1507.71px;font-size:24.8px;color:#64748b;letter-spacing:0.820px;-webkit-text-stroke:0.27px #64748b;">2023-07-19</span>
<div style="left:1162px;top:654px;width:490px;height:68px;border:2px solid #5b9ef6;"></div><div style="left:1162px;top:596px;width:85px;height:44px;background:#dbeafe;border:2px solid #c3d8f7;border-radius:22px;"></div><svg class="i" style="left:0;top:0;" width="2970" height="1704" viewBox="0 0 2970 1704" fill="none"><path d="M1217.2 615.2 L1223 620.8 L1228.8 615.2" stroke="#1d4ed8" stroke-width="3.2" stroke-linecap="butt" stroke-linejoin="miter"/></svg><span class="t" style="left:1176.60px;top:604.74px;font-size:25px;color:#1d4ed8;letter-spacing:-0.871px;font-weight:700;">h3</span>
</div></div>
<div style="left:908px;top:1616px;width:2050px;height:72px;background:#fafafa;border-top:2px solid #e1e1e4;border-radius:0 0 14px 14px;"></div><svg class="i" style="left:0;top:0;" width="2970" height="1704" viewBox="0 0 2970 1704" fill="none"><path d="M953 1641.3 H936.5 Q933.5 1641.3 933.5 1644.3 V1663.5 Q933.5 1666.5 936.5 1666.5 H959.5 Q962.5 1666.5 962.5 1663.5 V1652" stroke="#71717a" stroke-width="3"/><path d="M939.5 1650 L944 1654.5 L939.5 1659 M947.5 1659.5 H955" stroke="#71717a" stroke-width="2.6"/><circle cx="958" cy="1644" r="6" fill="#2563eb"/><path d="M2908 1653 L2916 1645 L2924 1653 M2908 1663.3 L2916 1655.3 L2924 1663.3" stroke="#6f6f7a" stroke-width="3"/></svg>
<span class="t" style="left:976.70px;top:1640.30px;font-size:28px;color:#71717a;letter-spacing:0.440px;">Console</span>
</div></body></html>
